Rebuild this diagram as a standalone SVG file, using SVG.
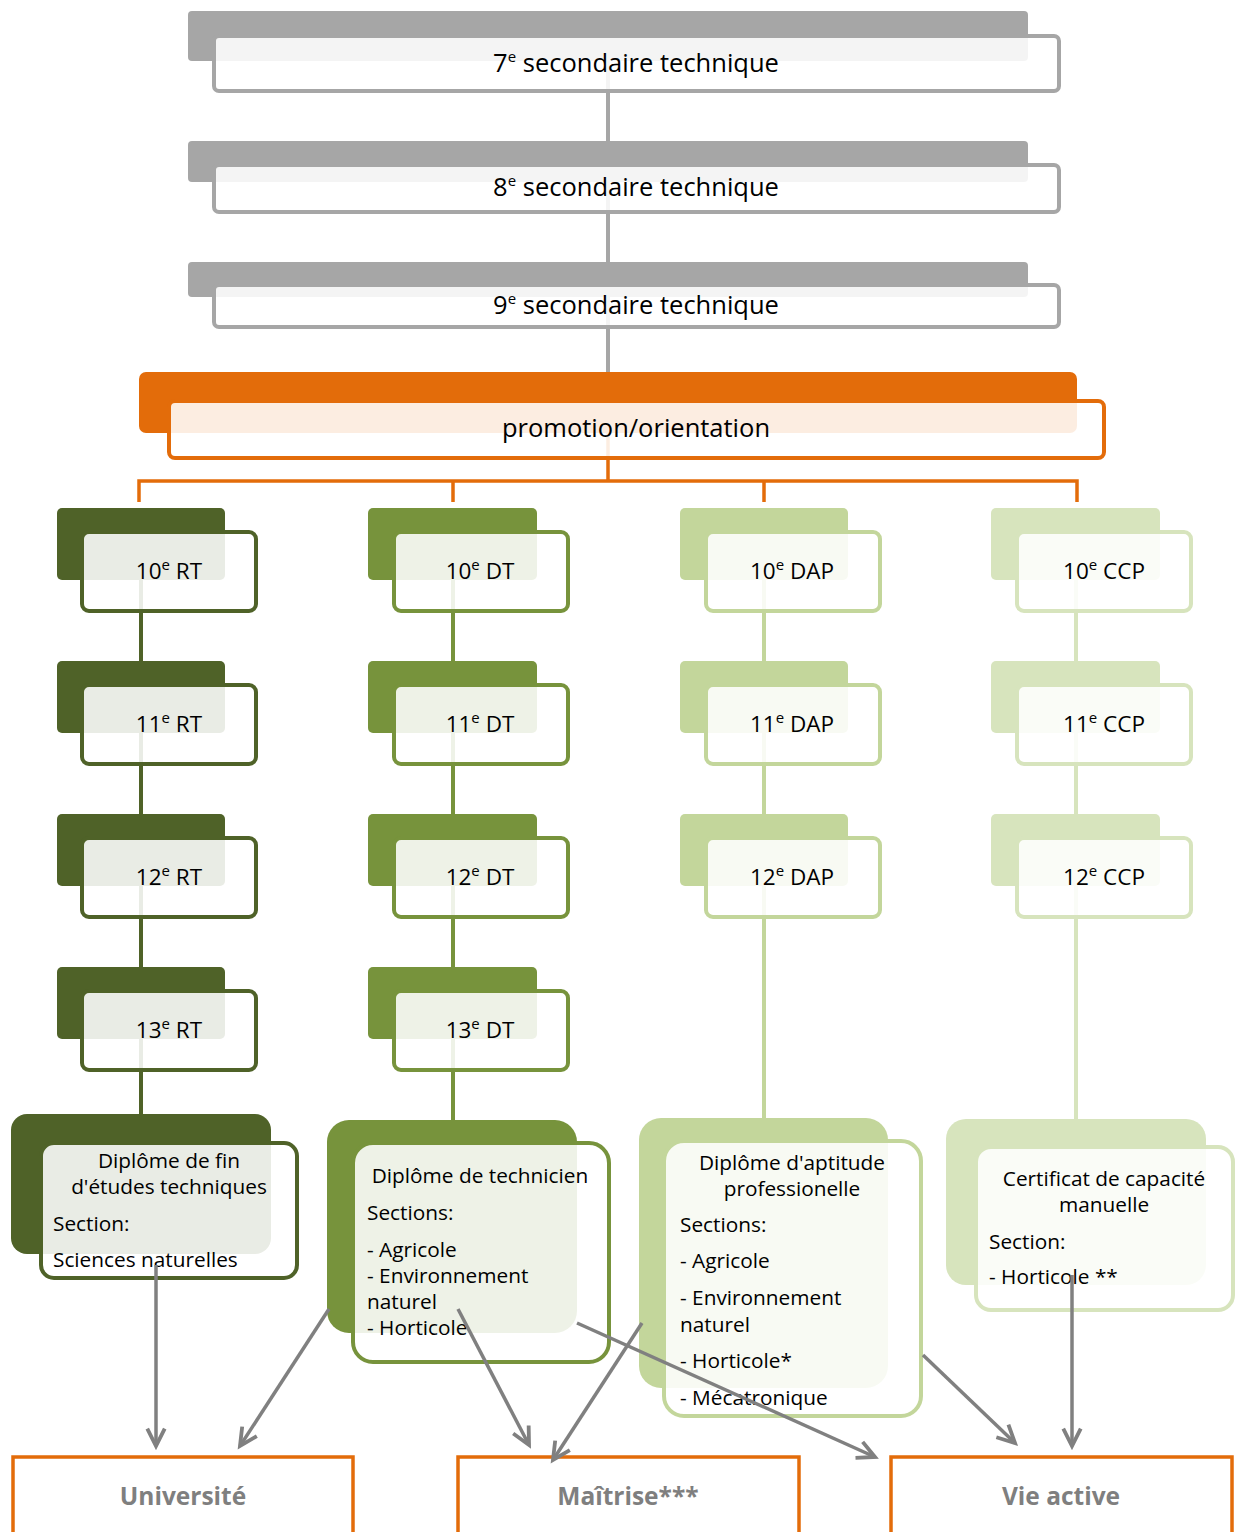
<svg xmlns="http://www.w3.org/2000/svg" width="1235" height="1532" viewBox="0 0 1235 1532">
<defs>
<style>
text{font-family:"Open Sans","Noto Sans",sans-serif;fill:#000}
.t1{font-size:25.5px;text-anchor:middle}
.tc{font-size:22.5px;text-anchor:middle}
.td{font-size:20.8px}
.tdm{font-size:20.8px;text-anchor:middle}
.tb{font-size:24.5px;font-weight:bold;fill:#7f7f7f;text-anchor:middle}
.sup{font-size:15px}
.fr{fill:#fff;fill-opacity:0.88;stroke-width:4}
.gray .bk{fill:#a6a6a6}.gray .fr{stroke:#a6a6a6}
.or .bk{fill:#e36c0a}.or .fr{stroke:#e36c0a}
.rt .bk{fill:#4f6228}.rt .fr{stroke:#4f6228}
.dt .bk{fill:#77933c}.dt .fr{stroke:#77933c}
.dap .bk{fill:#c3d69b}.dap .fr{stroke:#c3d69b}
.ccp .bk{fill:#d7e4bd}.ccp .fr{stroke:#d7e4bd}
.bot{fill:#fff;stroke:#e36c0a;stroke-width:3.5}
.arr{stroke:#808080;stroke-width:3.5;fill:none;marker-end:url(#ah)}
</style>
<marker id="ah" markerUnits="userSpaceOnUse" markerWidth="24" markerHeight="24" viewBox="-18 -10 22 20" refX="0" refY="0" orient="auto">
<path d="M-16,-8 L0,0 L-16,8" fill="none" stroke="#808080" stroke-width="3.5" stroke-linejoin="miter"/>
</marker>
</defs>
<rect width="1235" height="1532" fill="#fff"/>
<g id="connectors" fill="none" stroke-width="4">
<path d="M608,61V141M608,182V262M608,297V372" stroke="#a6a6a6"/>
<path d="M608,433V481M139,502V481H1077V502M453,481V502M764,481V502" stroke="#e36c0a" stroke-width="3.5"/>
<path d="M141,580V661M141,733V814M141,886V967M141,1039V1115" stroke="#4f6228"/>
<path d="M453,580V661M453,733V814M453,886V967M453,1039V1120" stroke="#77933c"/>
<path d="M764,580V661M764,733V814M764,886V1118" stroke="#c3d69b"/>
<path d="M1076,580V661M1076,733V814M1076,886V1119" stroke="#d7e4bd"/>
</g>
<g id="n7" class="gray"><rect class="bk" x="188" y="11" width="840" height="50" rx="4"/><rect class="fr" x="214" y="36" width="845" height="55" rx="5"/><text class="t1" x="636" y="72">7<tspan class="sup" dy="-10">e</tspan><tspan dy="10"> secondaire technique</tspan></text></g>
<g id="n8" class="gray"><rect class="bk" x="188" y="141" width="840" height="41" rx="4"/><rect class="fr" x="214" y="165" width="845" height="47" rx="5"/><text class="t1" x="636" y="196">8<tspan class="sup" dy="-10">e</tspan><tspan dy="10"> secondaire technique</tspan></text></g>
<g id="n9" class="gray"><rect class="bk" x="188" y="262" width="840" height="35" rx="4"/><rect class="fr" x="214" y="285" width="845" height="42" rx="5"/><text class="t1" x="636" y="314">9<tspan class="sup" dy="-10">e</tspan><tspan dy="10"> secondaire technique</tspan></text></g>
<g id="promo" class="or"><rect class="bk" x="139" y="372" width="938" height="61" rx="7"/><rect class="fr" x="169" y="401" width="935" height="57" rx="6"/><text class="t1" x="636" y="437">promotion/orientation</text></g>
<g id="rt10" class="rt"><rect class="bk" x="57" y="508" width="168" height="72" rx="5"/><rect class="fr" x="82" y="532" width="174" height="79" rx="7"/><text class="tc" x="169" y="579">10<tspan class="sup" dy="-9">e</tspan><tspan dy="9"> RT</tspan></text></g>
<g id="rt11" class="rt"><rect class="bk" x="57" y="661" width="168" height="72" rx="5"/><rect class="fr" x="82" y="685" width="174" height="79" rx="7"/><text class="tc" x="169" y="732">11<tspan class="sup" dy="-9">e</tspan><tspan dy="9"> RT</tspan></text></g>
<g id="rt12" class="rt"><rect class="bk" x="57" y="814" width="168" height="72" rx="5"/><rect class="fr" x="82" y="838" width="174" height="79" rx="7"/><text class="tc" x="169" y="885">12<tspan class="sup" dy="-9">e</tspan><tspan dy="9"> RT</tspan></text></g>
<g id="rt13" class="rt"><rect class="bk" x="57" y="967" width="168" height="72" rx="5"/><rect class="fr" x="82" y="991" width="174" height="79" rx="7"/><text class="tc" x="169" y="1038">13<tspan class="sup" dy="-9">e</tspan><tspan dy="9"> RT</tspan></text></g>
<g id="dt10" class="dt"><rect class="bk" x="368" y="508" width="169" height="72" rx="5"/><rect class="fr" x="394" y="532" width="174" height="79" rx="7"/><text class="tc" x="480" y="579">10<tspan class="sup" dy="-9">e</tspan><tspan dy="9"> DT</tspan></text></g>
<g id="dt11" class="dt"><rect class="bk" x="368" y="661" width="169" height="72" rx="5"/><rect class="fr" x="394" y="685" width="174" height="79" rx="7"/><text class="tc" x="480" y="732">11<tspan class="sup" dy="-9">e</tspan><tspan dy="9"> DT</tspan></text></g>
<g id="dt12" class="dt"><rect class="bk" x="368" y="814" width="169" height="72" rx="5"/><rect class="fr" x="394" y="838" width="174" height="79" rx="7"/><text class="tc" x="480" y="885">12<tspan class="sup" dy="-9">e</tspan><tspan dy="9"> DT</tspan></text></g>
<g id="dt13" class="dt"><rect class="bk" x="368" y="967" width="169" height="72" rx="5"/><rect class="fr" x="394" y="991" width="174" height="79" rx="7"/><text class="tc" x="480" y="1038">13<tspan class="sup" dy="-9">e</tspan><tspan dy="9"> DT</tspan></text></g>
<g id="dap10" class="dap"><rect class="bk" x="680" y="508" width="168" height="72" rx="5"/><rect class="fr" x="706" y="532" width="174" height="79" rx="7"/><text class="tc" x="792" y="579">10<tspan class="sup" dy="-9">e</tspan><tspan dy="9"> DAP</tspan></text></g>
<g id="dap11" class="dap"><rect class="bk" x="680" y="661" width="168" height="72" rx="5"/><rect class="fr" x="706" y="685" width="174" height="79" rx="7"/><text class="tc" x="792" y="732">11<tspan class="sup" dy="-9">e</tspan><tspan dy="9"> DAP</tspan></text></g>
<g id="dap12" class="dap"><rect class="bk" x="680" y="814" width="168" height="72" rx="5"/><rect class="fr" x="706" y="838" width="174" height="79" rx="7"/><text class="tc" x="792" y="885">12<tspan class="sup" dy="-9">e</tspan><tspan dy="9"> DAP</tspan></text></g>
<g id="ccp10" class="ccp"><rect class="bk" x="991" y="508" width="169" height="72" rx="5"/><rect class="fr" x="1017" y="532" width="174" height="79" rx="7"/><text class="tc" x="1104" y="579">10<tspan class="sup" dy="-9">e</tspan><tspan dy="9"> CCP</tspan></text></g>
<g id="ccp11" class="ccp"><rect class="bk" x="991" y="661" width="169" height="72" rx="5"/><rect class="fr" x="1017" y="685" width="174" height="79" rx="7"/><text class="tc" x="1104" y="732">11<tspan class="sup" dy="-9">e</tspan><tspan dy="9"> CCP</tspan></text></g>
<g id="ccp12" class="ccp"><rect class="bk" x="991" y="814" width="169" height="72" rx="5"/><rect class="fr" x="1017" y="838" width="174" height="79" rx="7"/><text class="tc" x="1104" y="885">12<tspan class="sup" dy="-9">e</tspan><tspan dy="9"> CCP</tspan></text></g>
<g id="dipRT" class="rt"><rect class="bk" x="11" y="1114" width="260" height="140" rx="16"/><rect class="fr" x="41" y="1143" width="256" height="135" rx="13"/>
<text class="tdm" x="169" y="1168">Diplôme de fin</text><text class="tdm" x="169" y="1194">d'études techniques</text><text class="td" x="53" y="1231">Section:</text><text class="td" x="53" y="1267">Sciences naturelles</text></g>
<g id="dipDT" class="dt"><rect class="bk" x="327" y="1120" width="250" height="213" rx="22"/><rect class="fr" x="353" y="1143" width="256" height="219" rx="20"/>
<text class="tdm" x="480" y="1183">Diplôme de technicien</text><text class="td" x="367" y="1220">Sections:</text><text class="td" x="367" y="1257">- Agricole</text><text class="td" x="367" y="1283">- Environnement</text><text class="td" x="367" y="1309">naturel</text><text class="td" x="367" y="1335">- Horticole</text></g>
<g id="dipDAP" class="dap"><rect class="bk" x="639" y="1118" width="249" height="270" rx="22"/><rect class="fr" x="664" y="1141" width="257" height="275" rx="20"/>
<text class="tdm" x="792" y="1170">Diplôme d'aptitude</text><text class="tdm" x="792" y="1196">professionelle</text><text class="td" x="680" y="1232">Sections:</text><text class="td" x="680" y="1268">- Agricole</text><text class="td" x="680" y="1305">- Environnement</text><text class="td" x="680" y="1332">naturel</text><text class="td" x="680" y="1368">- Horticole*</text><text class="td" x="680" y="1405">- Mécatronique</text></g>
<g id="dipCCP" class="ccp"><rect class="bk" x="946" y="1119" width="260" height="166" rx="20"/><rect class="fr" x="976" y="1147" width="257" height="163" rx="15"/>
<text class="tdm" x="1104" y="1186">Certificat de capacité</text><text class="tdm" x="1104" y="1212">manuelle</text><text class="td" x="989" y="1249">Section:</text><text class="td" x="989" y="1284">- Horticole **</text></g>
<g id="univ"><rect class="bot" x="13" y="1457" width="340" height="90"/><text class="tb" x="183" y="1505">Université</text></g>
<g id="maitrise"><rect class="bot" x="458" y="1457" width="341" height="90"/><text class="tb" x="628" y="1505">Maîtrise***</text></g>
<g id="vie"><rect class="bot" x="891" y="1457" width="341" height="90"/><text class="tb" x="1061" y="1505">Vie active</text></g>
<g id="arrows">
<path class="arr" d="M156,1265V1446"/>
<path class="arr" d="M329,1309L240,1446"/>
<path class="arr" d="M458,1309L529,1445"/>
<path class="arr" d="M642,1323L553,1460"/>
<path class="arr" d="M577,1323L875,1457"/>
<path class="arr" d="M923,1355L1015,1443"/>
<path class="arr" d="M1072,1275V1446"/>
</g>
</svg>
